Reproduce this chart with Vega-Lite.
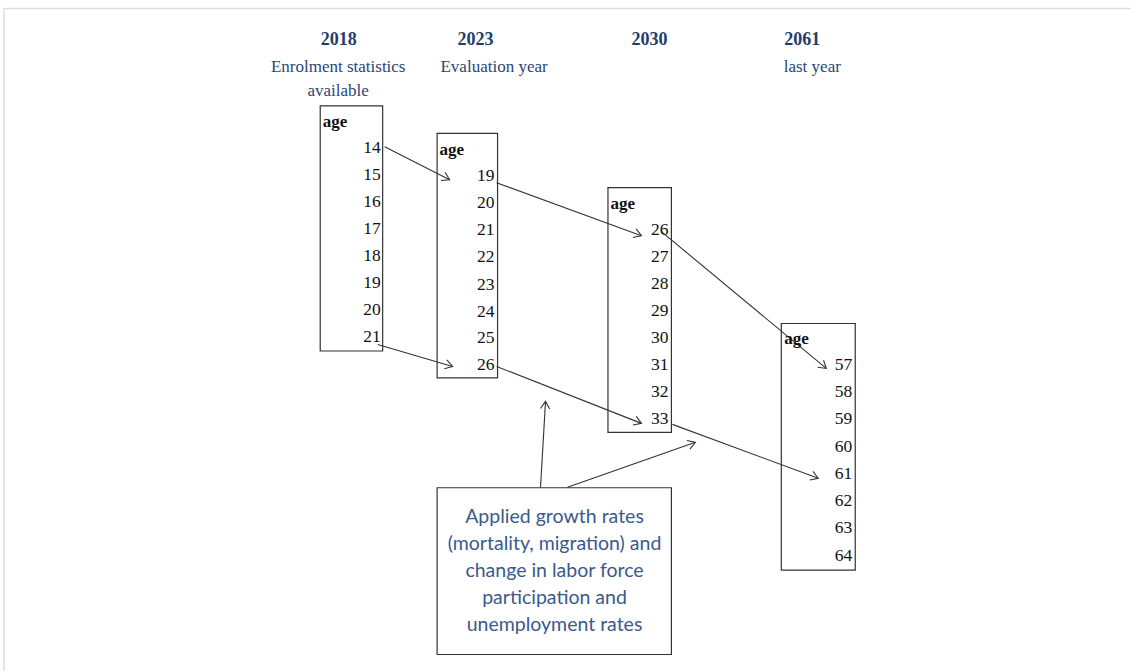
{
  "$schema": "https://vega.github.io/schema/vega-lite/v6.json",
  "width": 1132,
  "height": 672,
  "autosize": {"type": "fit", "contains": "padding"},
  "padding": 0,
  "background": "white",
  "config": {"view": {"stroke": null}},
  "datasets": {
    "frame": [
      {"x": 4, "y": 8.5, "x2": 1132, "y2": 8.5},
      {"x": 4, "y": 8.5, "x2": 4, "y2": 672}
    ],
    "boxes": [
      {"name": "2018", "x": 320.5, "x2": 383, "y": 106, "y2": 351.5},
      {"name": "2023", "x": 437.5, "x2": 498, "y": 133.5, "y2": 378.5},
      {"name": "2030", "x": 608.5, "x2": 672, "y": 188, "y2": 433},
      {"name": "2061", "x": 782, "x2": 856, "y": 324, "y2": 571},
      {"name": "note", "x": 437.5, "x2": 672, "y": 488.5, "y2": 655.5}
    ],
    "arrows": [
      {"x": 385, "y": 147, "x2": 450, "y2": 180, "angle": 26.9},
      {"x": 378, "y": 345, "x2": 453, "y2": 367, "angle": 16.3},
      {"x": 497, "y": 183, "x2": 642, "y2": 236, "angle": 20.1},
      {"x": 497, "y": 367, "x2": 642, "y2": 424, "angle": 21.5},
      {"x": 662, "y": 232, "x2": 827, "y2": 369, "angle": 39.7},
      {"x": 673, "y": 425, "x2": 819, "y2": 479, "angle": 20.3},
      {"x": 541, "y": 488, "x2": 546, "y2": 402, "angle": -86.7},
      {"x": 568, "y": 488, "x2": 696, "y2": 443, "angle": -19.4}
    ],
    "ages": [
      {"age": "14", "x": 381, "y": 148}, {"age": "15", "x": 381, "y": 175},
      {"age": "16", "x": 381, "y": 202}, {"age": "17", "x": 381, "y": 229},
      {"age": "18", "x": 381, "y": 256}, {"age": "19", "x": 381, "y": 283},
      {"age": "20", "x": 381, "y": 310}, {"age": "21", "x": 381, "y": 338},
      {"age": "19", "x": 495, "y": 176}, {"age": "20", "x": 495, "y": 203},
      {"age": "21", "x": 495, "y": 230}, {"age": "22", "x": 495, "y": 257},
      {"age": "23", "x": 495, "y": 285}, {"age": "24", "x": 495, "y": 312},
      {"age": "25", "x": 495, "y": 339}, {"age": "26", "x": 495, "y": 366},
      {"age": "26", "x": 669, "y": 230}, {"age": "27", "x": 669, "y": 257},
      {"age": "28", "x": 669, "y": 284}, {"age": "29", "x": 669, "y": 311},
      {"age": "30", "x": 669, "y": 339}, {"age": "31", "x": 669, "y": 366},
      {"age": "32", "x": 669, "y": 393}, {"age": "33", "x": 669, "y": 420},
      {"age": "57", "x": 853, "y": 366}, {"age": "58", "x": 853, "y": 393},
      {"age": "59", "x": 853, "y": 420}, {"age": "60", "x": 853, "y": 448},
      {"age": "61", "x": 853, "y": 475}, {"age": "62", "x": 853, "y": 502},
      {"age": "63", "x": 853, "y": 529}, {"age": "64", "x": 853, "y": 557}
    ],
    "headers": [
      {"t": "age", "x": 323, "y": 122},
      {"t": "age", "x": 440, "y": 150},
      {"t": "age", "x": 611, "y": 204},
      {"t": "age", "x": 785, "y": 340}
    ],
    "years": [
      {"t": "2018", "x": 339, "y": 40},
      {"t": "2023", "x": 476, "y": 40},
      {"t": "2030", "x": 650, "y": 40},
      {"t": "2061", "x": 803, "y": 40}
    ],
    "subtitles": [
      {"t": "Enrolment statistics", "x": 338.5, "y": 67},
      {"t": "available", "x": 338.5, "y": 91},
      {"t": "Evaluation year", "x": 494.5, "y": 67},
      {"t": "last year", "x": 813, "y": 67}
    ],
    "note": [
      {"t": "Applied growth rates", "x": 555, "y": 517.5},
      {"t": "(mortality, migration) and", "x": 555, "y": 544.5},
      {"t": "change in labor force", "x": 555, "y": 571.5},
      {"t": "participation and", "x": 555, "y": 598.5},
      {"t": "unemployment rates", "x": 555, "y": 625.5}
    ]
  },
  "layer": [
    {
      "data": {"name": "frame"},
      "mark": {"type": "rule", "color": "#dddddd", "strokeWidth": 1.5},
      "encoding": {
        "x": {"field": "x", "type": "quantitative", "scale": {"domain": [0, 1132], "nice": false, "zero": false}, "axis": null},
        "y": {"field": "y", "type": "quantitative", "scale": {"domain": [0, 672], "nice": false, "zero": false, "reverse": true}, "axis": null},
        "x2": {"field": "x2"},
        "y2": {"field": "y2"}
      }
    },
    {
      "data": {"name": "boxes"},
      "mark": {"type": "rect", "fill": "white", "stroke": "#333333", "strokeWidth": 1.2},
      "encoding": {
        "x": {"field": "x", "type": "quantitative", "axis": null},
        "y": {"field": "y", "type": "quantitative", "axis": null},
        "x2": {"field": "x2"},
        "y2": {"field": "y2"}
      }
    },
    {
      "data": {"name": "arrows"},
      "mark": {"type": "rule", "color": "#333333", "strokeWidth": 1.1},
      "encoding": {
        "x": {"field": "x", "type": "quantitative", "axis": null},
        "y": {"field": "y", "type": "quantitative", "axis": null},
        "x2": {"field": "x2"},
        "y2": {"field": "y2"}
      }
    },
    {
      "data": {"name": "arrows"},
      "mark": {"type": "point", "shape": "M-1.2,-0.75L0,0L-1.2,0.75", "filled": false, "stroke": "#333333", "strokeWidth": 1.1, "size": 150, "opacity": 1},
      "encoding": {
        "x": {"field": "x2", "type": "quantitative", "axis": null},
        "y": {"field": "y2", "type": "quantitative", "axis": null},
        "angle": {"field": "angle", "type": "quantitative", "scale": null}
      }
    },
    {
      "data": {"name": "ages"},
      "mark": {"type": "text", "align": "right", "baseline": "middle", "font": "Liberation Serif", "fontSize": 17.5, "color": "#111111"},
      "encoding": {
        "x": {"field": "x", "type": "quantitative", "axis": null},
        "y": {"field": "y", "type": "quantitative", "axis": null},
        "text": {"field": "age"}
      }
    },
    {
      "data": {"name": "headers"},
      "mark": {"type": "text", "align": "left", "baseline": "middle", "font": "Liberation Serif", "fontSize": 17, "fontWeight": "bold", "color": "#111111"},
      "encoding": {
        "x": {"field": "x", "type": "quantitative", "axis": null},
        "y": {"field": "y", "type": "quantitative", "axis": null},
        "text": {"field": "t"}
      }
    },
    {
      "data": {"name": "years"},
      "mark": {"type": "text", "align": "center", "baseline": "middle", "font": "Liberation Serif", "fontSize": 18, "fontWeight": "bold", "color": "#1f3d6e"},
      "encoding": {
        "x": {"field": "x", "type": "quantitative", "axis": null},
        "y": {"field": "y", "type": "quantitative", "axis": null},
        "text": {"field": "t"}
      }
    },
    {
      "data": {"name": "subtitles"},
      "mark": {"type": "text", "align": "center", "baseline": "middle", "font": "Liberation Serif", "fontSize": 17, "color": "#2b4674"},
      "encoding": {
        "x": {"field": "x", "type": "quantitative", "axis": null},
        "y": {"field": "y", "type": "quantitative", "axis": null},
        "text": {"field": "t"}
      }
    },
    {
      "data": {"name": "note"},
      "mark": {"type": "text", "align": "center", "baseline": "middle", "font": "Lato", "fontSize": 19.5, "color": "#3a5a8c"},
      "encoding": {
        "x": {"field": "x", "type": "quantitative", "axis": null},
        "y": {"field": "y", "type": "quantitative", "axis": null},
        "text": {"field": "t"}
      }
    }
  ]
}
